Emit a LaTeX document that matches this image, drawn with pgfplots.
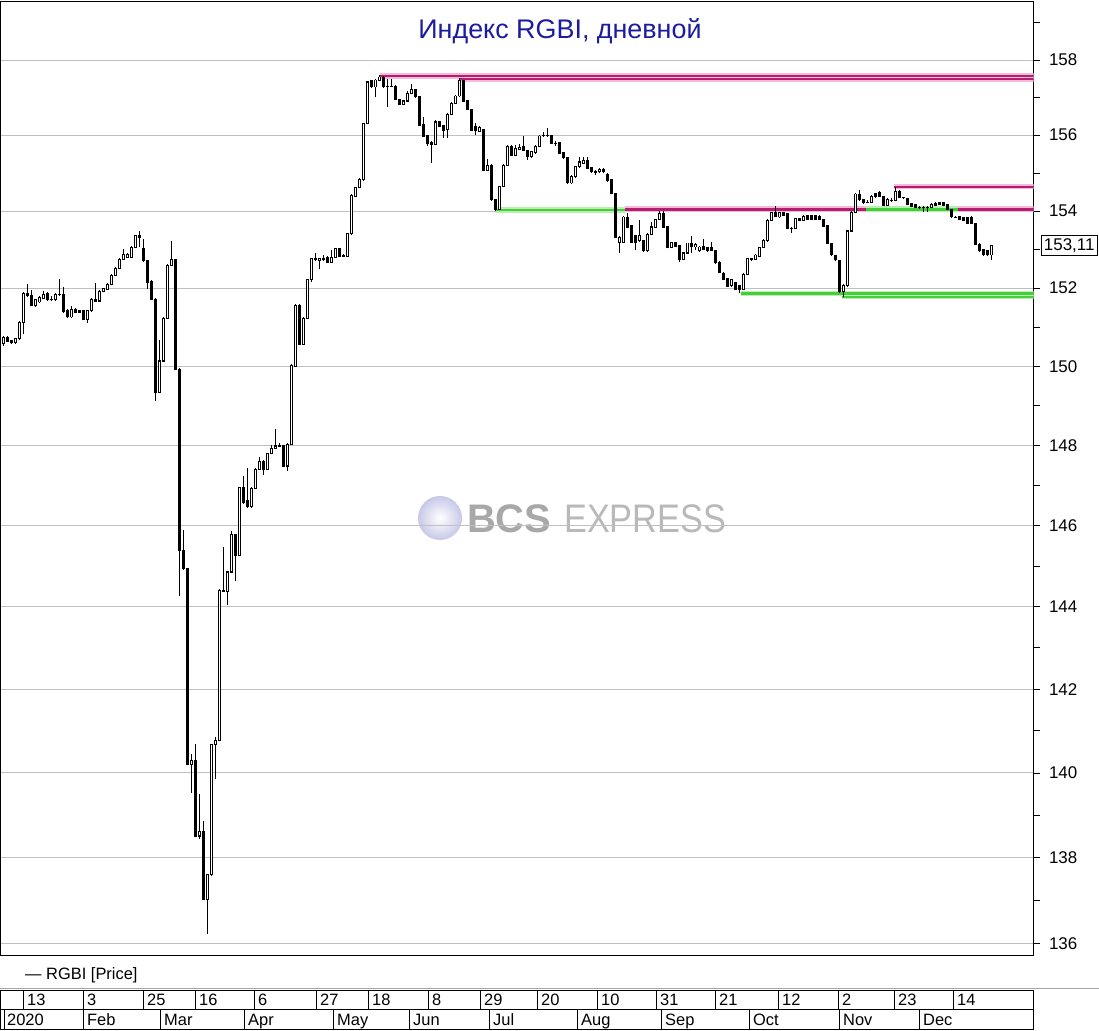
\documentclass[border=0pt]{standalone}
\usepackage{fontspec}
\setmainfont{Liberation Sans}
\usepackage{pgfplots}
\pgfplotsset{compat=1.18}
\usepackage{pgfplotstable}
\definecolor{titleblue}{RGB}{28,28,156}
\definecolor{magline}{RGB}{178,30,112}
\definecolor{magglow}{RGB}{246,185,218}
\definecolor{grnline}{RGB}{70,205,60}
\definecolor{grnglow}{RGB}{185,240,175}
\definecolor{gridgray}{RGB}{192,192,192}
\pgfplotstableread{
o h l c
150.58 150.77 150.53 150.73
150.73 150.78 150.61 150.63
150.65 150.66 150.58 150.60
150.60 150.73 150.58 150.71
150.71 151.16 150.68 151.13
151.13 151.90 150.83 151.87
151.87 152.12 151.77 151.80
151.82 151.95 151.54 151.55
151.55 151.72 151.52 151.70
151.65 151.80 151.62 151.76
151.75 151.93 151.73 151.85
151.87 151.92 151.67 151.70
151.72 151.80 151.68 151.71
151.70 151.87 151.67 151.85
151.85 152.25 151.81 151.84
151.85 152.03 151.38 151.40
151.44 151.47 151.22 151.26
151.26 151.54 151.24 151.46
151.47 151.49 151.37 151.38
151.43 151.44 151.37 151.38
151.43 151.44 151.19 151.21
151.21 151.44 151.12 151.42
151.42 151.75 151.39 151.72
151.72 152.14 151.66 151.68
151.68 151.95 151.66 151.92
151.92 152.01 151.90 151.99
151.97 152.13 151.95 152.10
152.10 152.36 152.08 152.34
152.34 152.55 152.31 152.51
152.51 152.78 152.49 152.75
152.75 153.03 152.73 152.88
152.80 152.91 152.78 152.88
152.80 153.09 152.78 153.06
153.06 153.40 153.04 153.38
153.38 153.48 153.07 153.32
153.03 153.27 152.69 152.71
152.71 152.73 151.99 152.16
152.18 152.21 151.70 151.71
151.72 151.75 149.13 149.34
149.34 150.68 149.33 150.13
150.13 151.27 150.11 151.23
151.23 152.62 151.22 152.60
152.60 153.23 152.57 152.75
152.75 152.77 149.90 149.93
149.93 149.95 144.28 145.38
145.38 145.90 144.91 144.94
144.94 144.96 140.19 140.21
140.20 140.45 139.52 140.29
140.29 140.69 138.49 138.51
138.51 139.50 138.43 138.61
138.61 138.86 137.00 137.02
137.02 137.63 136.23 137.60
137.60 140.70 137.58 140.68
140.68 140.86 139.86 140.77
140.77 144.43 140.75 144.40
144.40 145.47 144.36 144.38
144.38 144.89 144.05 144.86
144.86 145.86 144.84 145.78
145.78 145.80 144.62 145.27
145.27 146.96 145.25 146.94
146.94 147.23 146.55 146.59
146.63 147.43 146.45 146.47
146.47 146.95 146.45 146.93
146.93 147.43 146.90 147.40
147.40 147.72 147.38 147.59
147.59 147.63 147.26 147.40
147.40 147.83 147.38 147.79
147.79 148.01 147.78 147.93
147.93 148.42 147.90 147.99
147.99 148.07 147.95 147.98
147.99 148.01 147.48 147.49
147.49 148.05 147.36 148.03
148.03 150.05 148.01 150.03
150.01 151.60 149.99 151.57
151.57 151.60 150.56 150.57
150.57 151.27 150.56 151.23
151.23 152.25 151.22 152.23
152.23 152.79 152.16 152.77
152.77 152.93 152.70 152.73
152.71 152.79 152.51 152.77
152.77 152.86 152.70 152.73
152.81 152.83 152.66 152.68
152.68 152.99 152.66 152.81
152.81 153.05 152.79 153.03
153.03 153.05 152.81 152.83
152.83 152.88 152.81 152.86
152.83 153.44 152.81 153.42
153.42 154.45 153.40 154.42
154.39 154.64 154.37 154.62
154.62 154.86 154.60 154.83
154.82 156.33 154.79 156.31
156.31 157.45 156.29 157.42
157.44 157.47 157.27 157.29
157.29 157.49 157.02 157.47
157.45 157.60 157.43 157.55
157.55 157.59 157.27 157.29
157.31 157.49 156.75 157.30
157.31 157.49 157.28 157.30
157.31 157.33 156.93 156.95
156.95 156.97 156.80 156.82
156.82 156.93 156.80 156.91
156.91 157.17 156.89 157.11
157.11 157.36 157.09 157.22
157.22 157.24 157.00 157.02
157.04 157.05 156.24 156.27
156.29 156.49 155.95 155.97
155.99 156.01 155.71 155.78
155.82 155.84 155.27 155.76
155.76 156.40 155.74 156.35
156.35 156.37 156.21 156.24
156.26 156.28 155.94 156.13
156.15 156.59 155.94 156.56
156.56 156.87 156.53 156.85
156.85 157.07 156.83 157.04
157.04 157.52 157.01 157.45
157.45 157.47 156.89 156.91
156.91 156.93 156.67 156.69
156.69 156.70 156.11 156.13
156.24 156.33 156.00 156.13
156.11 156.24 156.09 156.22
156.15 156.17 155.05 155.08
155.08 155.39 155.05 155.21
155.21 155.24 154.29 154.31
154.31 154.32 154.00 154.04
154.04 154.68 154.03 154.66
154.66 155.24 154.63 155.21
155.21 155.74 155.18 155.71
155.71 155.74 155.45 155.47
155.47 155.74 155.45 155.65
155.62 155.78 155.61 155.68
155.71 155.97 155.58 155.61
155.59 155.61 155.34 155.43
155.43 155.58 155.41 155.56
155.54 155.74 155.51 155.71
155.71 156.00 155.70 155.98
155.99 156.09 155.96 155.98
155.99 156.18 155.96 155.98
156.00 156.01 155.76 155.78
155.78 155.83 155.72 155.78
155.80 155.82 155.50 155.52
155.53 155.55 155.39 155.41
155.41 155.42 154.72 154.74
154.74 154.95 154.72 154.92
154.92 155.18 154.89 155.17
155.17 155.43 155.14 155.30
155.26 155.43 155.24 155.34
155.34 155.43 155.11 155.12
155.15 155.16 155.01 155.03
155.06 155.08 154.95 155.02
155.03 155.12 155.00 155.10
155.10 155.12 155.00 155.03
154.97 155.00 154.78 154.80
154.82 154.83 154.45 154.47
154.47 154.48 153.30 153.32
153.20 153.35 152.92 153.33
153.20 153.87 153.18 153.85
153.85 153.94 153.56 153.58
153.64 153.65 153.16 153.18
153.38 153.39 152.99 153.18
153.23 153.77 153.21 153.38
153.25 153.26 152.95 152.97
152.97 153.43 152.95 153.40
153.40 153.71 153.38 153.59
153.58 153.81 153.56 153.78
153.78 154.00 153.77 153.94
153.94 154.00 153.57 153.59
153.61 153.62 153.04 153.06
153.06 153.22 153.04 153.20
153.20 153.22 153.07 153.09
153.12 153.13 152.68 152.75
152.75 152.94 152.73 152.92
152.92 153.19 152.90 153.18
153.18 153.35 152.92 153.07
153.07 153.17 152.99 153.14
152.97 153.09 152.95 153.07
153.09 153.27 152.99 153.01
153.06 153.07 152.95 152.97
153.07 153.20 152.96 152.99
152.99 153.00 152.64 152.66
152.68 152.70 152.38 152.40
152.40 152.42 152.21 152.23
152.25 152.26 152.03 152.05
152.08 152.25 152.05 152.23
152.14 152.16 151.95 151.97
152.08 152.09 151.88 151.97
151.97 152.39 151.95 152.36
152.36 152.79 152.34 152.77
152.77 152.79 152.70 152.73
152.75 152.88 152.73 152.86
152.83 153.08 152.81 153.06
153.06 153.27 153.04 153.25
153.25 153.79 153.22 153.77
153.77 153.97 153.74 153.96
153.96 154.13 153.84 153.87
153.85 153.97 153.83 153.96
153.96 153.97 153.87 153.90
153.94 153.95 153.53 153.55
153.56 153.58 153.44 153.55
153.55 153.83 153.53 153.81
153.81 153.83 153.74 153.77
153.77 153.90 153.74 153.87
153.90 153.92 153.77 153.78
153.90 153.92 153.77 153.78
153.90 153.92 153.77 153.78
153.87 153.90 153.77 153.78
153.78 153.79 153.58 153.61
153.64 153.65 153.14 153.16
153.18 153.19 152.83 152.86
152.86 152.87 152.70 152.73
152.73 152.74 151.89 151.91
151.91 152.10 151.78 152.08
152.08 153.51 152.05 153.49
153.49 154.00 153.47 153.98
153.98 154.47 153.96 154.45
154.45 154.55 154.29 154.31
154.31 154.32 154.20 154.22
154.24 154.30 154.21 154.23
154.24 154.42 154.22 154.39
154.47 154.49 154.36 154.38
154.50 154.53 154.37 154.39
154.39 154.41 154.13 154.16
154.16 154.33 154.13 154.31
154.29 154.33 154.25 154.28
154.29 154.64 154.26 154.53
154.53 154.55 154.34 154.36
154.36 154.39 154.32 154.35
154.33 154.34 154.16 154.18
154.20 154.21 154.11 154.13
154.18 154.20 154.09 154.11
154.11 154.14 154.08 154.10
154.10 154.13 153.98 154.09
154.10 154.13 153.98 154.09
154.11 154.21 154.09 154.18
154.16 154.24 154.13 154.20
154.22 154.24 154.16 154.18
154.22 154.24 154.13 154.16
154.18 154.20 154.03 154.04
154.04 154.05 153.83 153.85
153.85 153.88 153.82 153.84
153.87 153.88 153.77 153.78
153.84 153.85 153.74 153.77
153.84 153.85 153.68 153.70
153.85 153.87 153.66 153.68
153.68 153.69 153.12 153.14
153.14 153.16 152.95 152.97
153.01 153.02 152.83 152.86
152.99 153.00 152.83 152.86
152.86 153.13 152.73 153.11
}\candles
\begin{document}
\begin{tikzpicture}[x=1bp,y=1bp]
\path[use as bounding box] (0,0) rectangle (1099,1031);
% watermark
\shade[inner color=white, outer color={rgb,255:red,200;green,200;blue,232}] (440,513) circle (22);
\node[anchor=base west, inner sep=0, text={rgb,255:red,168;green,168;blue,168}, font=\fontsize{40}{40}\selectfont\bfseries] at (467,498) {BCS};
\node[anchor=base west, inner sep=0, xscale=0.86, text={rgb,255:red,185;green,185;blue,185}, font=\fontsize{40}{40}\selectfont] at (564,498) {EXPRESS};
\begin{axis}[
  at={(0.5bp,75.5bp)}, anchor=south west, scale only axis,
  width=1033bp, height=954.5bp,
  clip mode=individual,
  y coord trafo/.code={\pgfmathparse{ln(#1)}},
  y coord inv trafo/.code={\pgfmathparse{exp(#1)}},
  xmin=-0.7, xmax=257.55, ymin=135.73, ymax=159.59,
  xtick=\empty,
  ytick={136,138,140,142,144,146,148,150,152,154,156,158},
  yticklabels={136,138,140,142,144,146,148,150,152,154,156,158},
  minor ytick={137,139,141,143,145,147,149,151,153,155,157,159},
  ytick pos=right, yticklabel pos=right, tick align=outside,
  major tick length=6bp, minor tick length=6bp,
  tick style={black, line width=0.8bp},
  ymajorgrids, grid style={gridgray, line width=0.9bp},
  axis line style={black, line width=0.9bp},
  /pgf/number format/assume math mode=true,
  yticklabel style={font=\fontsize{17}{19}\selectfont, xshift=6bp},
]
% support / resistance lines
\addplot[magglow, line width=5.5bp, forget plot] coordinates {(94.2,157.58) (257.55,157.58)};
\addplot[magglow, line width=5.5bp, forget plot] coordinates {(114.2,157.49) (257.55,157.49)};
\addplot[magline, line width=2.2bp, forget plot] coordinates {(94.2,157.58) (257.55,157.58)};
\addplot[magline, line width=2.2bp, forget plot] coordinates {(114.2,157.49) (257.55,157.49)};
\addplot[grnglow, line width=5.5bp, forget plot] coordinates {(123.2,154.04) (155.4,154.04)};
\addplot[grnline, line width=2.4bp, forget plot] coordinates {(123.2,154.04) (155.4,154.04)};
\addplot[magglow, line width=5.5bp, forget plot] coordinates {(155.4,154.05) (257.55,154.05)};
\addplot[magline, line width=2.6bp, forget plot] coordinates {(155.4,154.05) (257.55,154.05)};
\addplot[grnglow, line width=5.5bp, forget plot] coordinates {(215.7,154.05) (238.7,154.05)};
\addplot[grnline, line width=2.6bp, forget plot] coordinates {(215.7,154.05) (238.7,154.05)};
\addplot[magglow, line width=5bp, forget plot] coordinates {(222.7,154.64) (257.55,154.64)};
\addplot[magline, line width=2.2bp, forget plot] coordinates {(222.7,154.64) (257.55,154.64)};
\addplot[grnglow, line width=5bp, forget plot] coordinates {(184.4,151.87) (257.55,151.87)};
\addplot[grnglow, line width=5bp, forget plot] coordinates {(209.7,151.78) (257.55,151.78)};
\addplot[grnline, line width=2.2bp, forget plot] coordinates {(184.4,151.87) (257.55,151.87)};
\addplot[grnline, line width=2.2bp, forget plot] coordinates {(209.7,151.78) (257.55,151.78)};
% candles
\pgfplotsforeachungrouped \i in {0,...,247}{%
  \pgfplotstablegetelem{\i}{o}\of\candles \let\vo=\pgfplotsretval
  \pgfplotstablegetelem{\i}{h}\of\candles \let\vh=\pgfplotsretval
  \pgfplotstablegetelem{\i}{l}\of\candles \let\vl=\pgfplotsretval
  \pgfplotstablegetelem{\i}{c}\of\candles \let\vc=\pgfplotsretval
  \pgfmathsetmacro\vbot{min(\vo,\vc)-0.013}%
  \pgfmathsetmacro\vtop{max(\vo,\vc)+0.013}%
  \pgfmathtruncatemacro\isup{(\vc-\vo>0.04) ? 1 : 0}%
  \pgfmathsetmacro\wbot{\vo+0.013}%
  \pgfmathsetmacro\wtop{\vc-0.013}%
  \edef\tmp{%
    \noexpand\addplot[black, line width=1bp, forget plot] coordinates {(\i,\vl) (\i,\vh)};
    \noexpand\addplot[black, line width=3.3bp, forget plot] coordinates {(\i,\vbot) (\i,\vtop)};
  }\tmp
  \ifnum\isup=1
    \edef\tmp{\noexpand\addplot[white, line width=1.3bp, forget plot] coordinates {(\i,\wbot) (\i,\wtop)};}\tmp
  \fi
}
\node[anchor=west, xshift=7.5bp, draw=black, line width=0.8bp, fill=white,
  inner xsep=2.5bp, inner ysep=3bp, font=\fontsize{17}{19}\selectfont]
  at (axis cs:257.55,153.11) {153,11};
\end{axis}
% title
\node[font=\fontsize{27}{30}\selectfont, text=titleblue] at (560,1000) {Индекс RGBI, дневной};
% legend
\node[anchor=base west, inner sep=0, font=\fontsize{16.5}{18}\selectfont] at (25,51) {— RGBI [Price]};
% date strip
\draw[gray!70, line width=0.9bp] (0,42.5) -- (1099,42.5);
\draw[black, line width=0.9bp] (0.5,1.5) rectangle (1033.5,41);
\draw[black, line width=0.9bp] (0.5,21.5) -- (1033.5,21.5);
\foreach \sx/\lab in {23/13,83/3,143/25,195/16,254/6,316/27,368/18,428/8,480/29,537/20,597/10,656/31,715/21,778/12,838/2,894/23,953/14}{
  \draw[black, line width=0.9bp] (\sx,21.5) -- (\sx,41);
  \node[anchor=base west, inner sep=0, font=\fontsize{16.5}{18}\selectfont] at (\sx+4,25.5) {\lab};
}
\draw[black, line width=0.9bp] (4,1.5) -- (4,21.5);
\foreach \sx/\lab in {83/Feb,160/Mar,244/Apr,333/May,409/Jun,489/Jul,577/Aug,661/Sep,749/Oct,839/Nov,919/Dec}{
  \draw[black, line width=0.9bp] (\sx,1.5) -- (\sx,21.5);
  \node[anchor=base west, inner sep=0, font=\fontsize{16.5}{18}\selectfont] at (\sx+4,5.5) {\lab};
}
\node[anchor=base west, inner sep=0, font=\fontsize{16.5}{18}\selectfont] at (7,5.5) {2020};
\end{tikzpicture}
\end{document}
